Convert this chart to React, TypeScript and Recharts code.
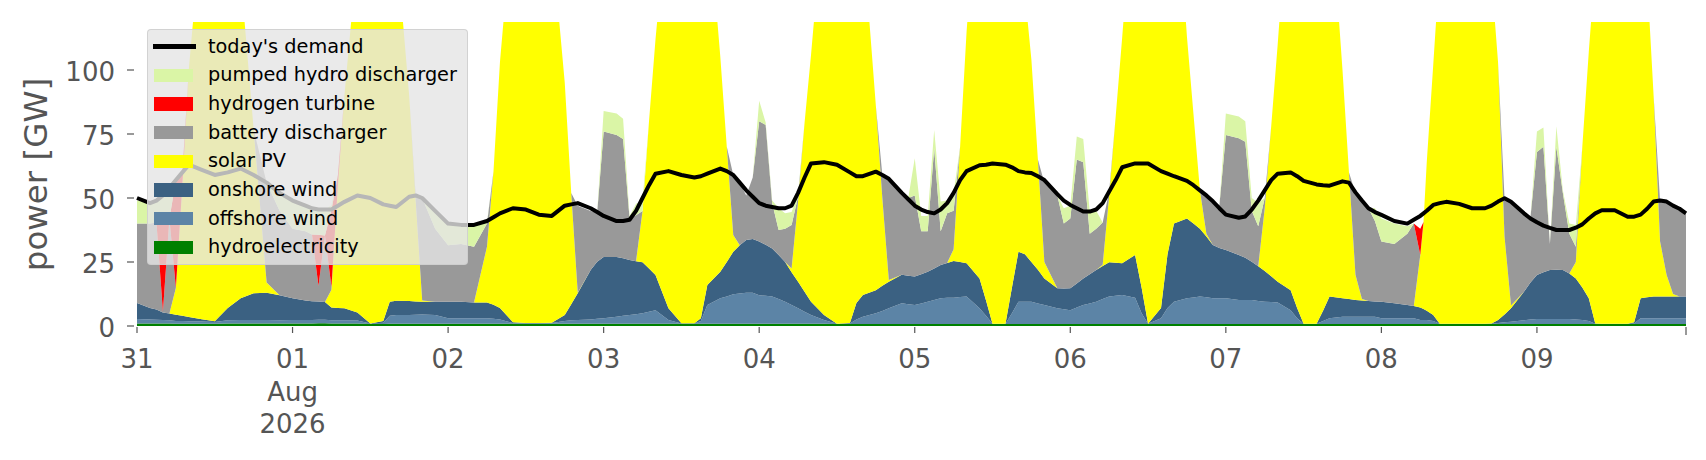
import React from "react";
import { ComposedChart, Area, Line, XAxis, YAxis } from "recharts";

// hours since 31 Jul 2026 00:00
const hours = [
  0, 2, 3, 4, 5, 6, 7, 8, 10, 12, 14, 16, 18, 20, 22,
  24, 26, 27, 28, 29, 30, 31, 32, 34, 36, 38, 39, 40, 42, 43, 44, 46,
  48, 50, 52, 54, 55, 56, 58, 60, 62, 64, 66, 67, 68, 70, 71,
  72, 74, 75, 76, 77, 78, 79, 80, 82, 84, 86, 87, 88, 90, 91, 92, 93, 94, 95,
  96, 97, 98, 99, 100, 101, 102, 103, 104, 106, 108, 110, 111, 112, 114, 115, 116, 118, 119,
  120, 121, 122, 123, 124, 125, 126, 127, 128, 130, 131, 132, 134, 135, 136, 137, 138, 139, 140, 142, 143,
  144, 145, 146, 147, 148, 149, 150, 151, 152, 154, 155, 156, 158, 159, 160, 162, 163, 164, 165, 166, 167,
  168, 170, 171, 172, 173, 174, 175, 176, 178, 179, 180, 182, 183, 184, 186, 187, 188, 189, 190, 191,
  192, 194, 196, 197, 198, 198.5, 199, 200, 201, 202, 204, 206, 208, 209, 210, 211, 212, 214, 215,
  216, 217, 218, 219, 220, 221, 222, 223, 224, 225, 226, 228, 230, 231, 232, 233, 234, 235, 236, 237, 238, 239,
];

const demand = [
  50, 48, 49, 51, 54, 57, 60, 63, 61, 59, 60, 61.5, 59, 56, 52,
  49, 47, 46, 45.5, 45.5, 45.5, 47, 48.5, 51, 50, 47.5, 47, 46.5, 50.5, 51, 50, 45,
  40, 39.5, 39.5, 41, 42.5, 44, 46, 45.5, 43.5, 43, 47, 47.5, 48, 46, 44.5,
  43, 41, 41, 41.5, 45, 50, 55, 59.5, 60.5, 59, 58, 58.5, 59.5, 61.5, 60.5, 59, 56, 53, 50.5,
  48, 47, 46.5, 46, 46, 47, 52, 58, 63.5, 64, 63, 60, 58.5, 58.5, 60.3, 59, 57.5, 52, 49.5,
  47, 45.5, 44.5, 44, 45.5, 48, 52, 57, 60.5, 62.8, 63, 63.5, 63, 62, 60.5, 60, 59.8, 58.5, 57, 51.5, 49,
  47.3, 46, 44.7, 44.7, 45.5, 48, 52.5, 57, 62, 63.5, 63.5, 63.5, 60.5, 59.5, 58.5, 56.7, 55, 53, 51, 48.7, 46,
  43.5, 42.3, 42.8, 45.5, 49, 53, 57, 59.5, 60, 58.5, 56.7, 55.3, 55, 54.8, 56.5, 56, 52.2, 49, 46, 44.5,
  43.4, 41, 40, 41.5, 43, 44, 45, 47.3, 48, 48.5, 47.7, 46, 46, 47, 48.6, 49.9, 48.5, 44, 42,
  40.5, 39.2, 38.3, 37.5, 37.5, 37.5, 38.4, 39.7, 42, 44, 45.2, 45.2, 42.7, 42.7, 43.5, 45.8, 48.6, 49, 48.6, 47, 45.8, 44,
];

const hydro = [
  1, 1, 1, 1, 1, 0.9, 0.9, 0.9, 0.9, 0.9, 1, 1, 1, 1, 1,
  1, 1, 1, 1.1, 1.1, 1, 1, 1, 1, 0.8, 0.8, 0.9, 0.9, 0.9, 0.9, 0.9, 0.9,
  0.9, 0.9, 0.9, 0.9, 0.9, 0.9, 0.9, 0.9, 0.9, 0.9, 0.9, 0.9, 0.9, 0.9, 0.9,
  0.9, 0.9, 0.9, 0.9, 0.9, 0.9, 0.9, 0.9, 0.9, 0.9, 0.9, 0.9, 0.9, 0.9, 0.9, 0.9, 0.9, 0.9, 0.9,
  0.9, 0.9, 0.9, 0.9, 0.9, 0.9, 0.9, 0.9, 0.9, 0.9, 0.8, 0.8, 0.8, 0.8, 0.8, 0.8, 0.8, 0.8, 0.8,
  0.8, 0.8, 0.8, 0.8, 0.8, 0.8, 0.8, 0.8, 0.8, 0.8, 0.8, 0.8, 0.8, 0.8, 0.8, 0.8, 0.8, 0.8, 0.8, 0.8, 0.8,
  0.8, 0.8, 0.8, 0.8, 0.8, 0.8, 0.8, 0.8, 0.8, 0.8, 0.8, 0.8, 0.8, 0.8, 0.8, 0.8, 0.8, 0.8, 0.8, 0.8, 0.8,
  0.8, 0.8, 0.8, 0.8, 0.8, 0.8, 0.8, 0.8, 0.8, 0.8, 0.8, 0.8, 0.8, 0.8, 0.8, 0.8, 0.8, 0.8, 0.8, 0.8,
  0.8, 0.8, 0.8, 0.8, 0.8, 0.8, 0.8, 0.8, 0.8, 0.8, 0.8, 0.8, 0.8, 0.8, 0.8, 0.8, 0.8, 0.8, 0.8,
  0.8, 0.8, 0.8, 0.8, 0.8, 0.8, 0.8, 0.8, 0.8, 0.8, 0.8, 0.8, 0.8, 0.8, 0.8, 0.8, 0.8, 0.8, 0.8, 0.8, 0.8, 0.8,
];

const offshore = [
  1.7, 1.5, 1.4, 1.3, 1.2, 1.1, 1.1, 1, 0.9, 0.7, 1.2, 1.3, 1.3, 1.3, 1.2,
  1.3, 1.3, 1.3, 1.3, 1.3, 1.2, 1.2, 1.2, 1.1, 0.2, 0.5, 3.1, 3.4, 3.4, 3.5, 3.6, 3.4,
  2.1, 2.1, 2.1, 2.1, 1.9, 1.6, 0.3, 0.2, 0.2, 0.3, 1.1, 1.3, 1.4, 1.6, 1.9,
  2.1, 2.7, 3.1, 3.4, 3.7, 4.1, 4.7, 5.3, 1.4, 0.1, 0.1, 1.1, 7.3, 9.9, 10.6, 11.5, 11.8, 12.1, 12.1,
  11.1, 10.9, 10.6, 9.6, 8.6, 7.3, 6, 4.7, 3.4, 1.4, 0.1, 0.2, 1.7, 2.8, 4.2, 5.1, 6.1, 8.1, 7.7,
  7.4, 8, 8.7, 9.4, 10, 10.2, 10.2, 10.5, 10.7, 6.1, 3.2, 0.1, 0.1, 4.2, 8.7, 8.7, 8.7, 8, 7.4, 6.1, 5.7,
  5.4, 6.4, 7.4, 8, 8.7, 9.7, 10.7, 11, 11.3, 10.2, 4.2, 0.1, 2.2, 6.2, 8.7, 10, 10.3, 10.7, 10.4, 10, 10,
  10, 9.4, 9.4, 9.4, 9, 8.7, 8.6, 8.4, 5.4, 2.2, 0.1, 0.1, 1.2, 2.2, 2.8, 2.8, 2.8, 2.8, 2.8, 2.8,
  2.2, 2.2, 2.2, 2.2, 1.5, 1.5, 1.5, 1.2, 0.1, 0.1, 0.1, 0.1, 0.1, 0.1, 0.4, 0.7, 0.9, 1.4, 1.7,
  1.9, 1.9, 1.9, 1.9, 1.9, 1.9, 1.7, 1.5, 1.2, 0.1, 0.1, 0.1, 0.1, 0.2, 2.2, 2.2, 2.2, 2.2, 2.2, 2.2, 2.2, 2.2,
];

const onshore = [
  6.3, 4.5, 4, 3, 2.7, 2.4, 2, 1.6, 0.8, 0.3, 4.8, 8.5, 10.5, 10.7, 9.8,
  8.5, 7.7, 7.4, 7.2, 7, 5, 4.8, 4.7, 3.2, 0, 0.7, 5.5, 5.6, 5.5, 5.2, 5, 5.2,
  6.5, 6.5, 6.2, 6.2, 5.5, 4.5, 0.3, 0.1, 0.1, 0.1, 2.3, 6.3, 10.5, 19.4, 22.3,
  24, 23.4, 22.5, 21.5, 20.7, 19.9, 16.9, 13.7, 4.6, 0.1, 0.1, 1, 7.8, 10.4, 13.5, 16.6, 18.8, 20.6, 21,
  21, 19.9, 18.8, 17.2, 15.5, 12.8, 10.4, 7.8, 5.2, 2, 0, 0.2, 6.5, 8.5, 9, 9.8, 10.4, 11.1, 11.1,
  11.1, 11.4, 11.7, 12.3, 13, 13.6, 14.4, 13.7, 13, 11.7, 6, 0, 0, 10, 19.5, 18.5, 15.5, 13.2, 10.4, 7.8, 8.1,
  8.5, 9.4, 10.4, 11.4, 12.4, 12.9, 13.4, 12.9, 12.4, 16.7, 10, 0, 4, 21, 30.5, 31.2, 28.9, 26.5, 23.8, 20.8, 19.7,
  18.9, 17.5, 16.5, 14.9, 13.5, 12, 10, 8.1, 7.8, 4, 0, 0, 4, 8.5, 7.2, 6.9, 6.6, 6.4, 6.2, 6,
  6.5, 5.9, 5.2, 4.8, 4.9, 4.3, 3.7, 2.3, 0, 0, 0, 0, 0, 0.1, 1.1, 3, 5.2, 11.2, 14.5,
  17.2, 18.3, 19.2, 19.3, 19.2, 17.8, 16.1, 12.7, 8.8, 0.1, 0, 0, 0, 0.5, 7.8, 8.2, 8.5, 8.5, 8.5, 8.5, 8.5, 8.5,
];

const solar = [
  0, 0, 0, 0, 0, 10.5, 51, 97, 155, 175, 165, 126, 64, 4, 0,
  0, 0, 0, 0, 0, 7, 48, 83, 140, 170, 165, 150, 140, 80, 39.4, 0.5, 0,
  0, 0, 0, 21.8, 52, 96, 160, 180, 175, 150, 90.7, 43.5, 0.2, 0, 0,
  0, 0, 0, 0, 0, 20, 57.5, 92, 160, 180, 175, 165, 150, 84, 45, 6.5, 0, 0, 0,
  0, 0, 0, 0, 0, 1.5, 31.3, 66, 96.5, 160, 180, 175, 160, 140, 72, 34.3, 0.7, 0, 0,
  0, 0, 0, 0, 0, 0, 4.6, 45, 90.5, 165, 170, 180, 170, 150, 140, 102, 79, 43, 6.4, 0, 0,
  0, 0, 0, 0, 0, 0.5, 26.1, 57, 88, 150, 160, 180, 175, 155, 145, 71, 43, 15, 1, 0, 0,
  0, 0, 0, 0, 0, 24.5, 58.6, 92.7, 165, 175, 180, 178, 170, 160, 89.2, 49.5, 9.8, 0.5, 0, 0,
  0, 0, 0, 0, 20.5, 34, 58, 97.7, 140, 170, 185, 180, 160, 135, 100.7, 30.5, 1.1, 0, 0,
  0, 0, 0, 0, 0, 0, 6.4, 55, 96.2, 140, 170, 185, 175, 160, 145, 125, 78.5, 21.5, 8.5, 1, 0, 0,
];

const battery = [
  31, 33, 34, 0.3, 37, 0, 0, 0, 0, 0, 0, 0, 0, 39, 33,
  27.2, 27, 26, 6, 26, 1, 0, 0, 0, 0, 0, 0, 0, 0, 2, 40, 28.5,
  22, 22.5, 21.8, 9, 0, 0, 0, 0, 0, 0, 0, 0, 34, 23, 19,
  49, 47.6, 46.5, 16.2, 18, 0, 0, 0, 0, 0, 0, 0, 0, 0, 0, 23.5, 24.5, 17.4, 24,
  47, 46.8, 17.7, 9.8, 13, 17, 2, 0, 0, 0, 0, 0, 0, 0, 0, 9, 39.5, 32, 30.4,
  31.7, 16.8, 15.8, 46.9, 13.2, 19.4, 15, 0, 0, 0, 0, 0, 0, 0, 0, 0, 0, 0, 31, 36.3, 25.4,
  27.3, 48.4, 45.4, 15.8, 16.1, 16.5, 1.5, 0, 0, 0, 0, 0, 0, 0, 0, 0, 0, 0, 15, 17.4, 16.5,
  44.9, 45.6, 45.3, 19.9, 15.7, 4, 0, 0, 0, 0, 0, 0, 0, 0, 0, 0, 32, 39.5, 36.2, 31.4,
  23.5, 23.1, 27.8, 32.2, 0, 0, 0, 0, 0, 0, 0, 0, 0, 0, 0, 15, 40.5, 30.6, 25.5,
  48.1, 49, 10.1, 48, 30.1, 15.5, 6, 0, 0, 0, 0, 0, 0, 0, 0, 0, 0, 15.8, 28.5, 35, 34.5, 32.5,
];

// null = turbine not running (keeps the area from drawing zero-width seams)
const _ = null;
const hydrogen = [
  _, _, 0, 38, 0, 42, 5, 0, _, _, _, _, _, _, _,
  _, _, 0, 20, 0, 30, 4, 0, _, _, _, _, _, _, _, _, _,
  _, _, _, _, _, _, _, _, _, _, _, _, _, _, _,
  _, _, _, _, _, _, _, _, _, _, _, _, _, _, _, _, _, _, _,
  _, _, _, _, _, _, _, _, _, _, _, _, _, _, _, _, _, _, _,
  _, _, _, _, _, _, _, _, _, _, _, _, _, _, _, _, _, _, _, _, _,
  _, _, _, _, _, _, _, _, _, _, _, _, _, _, _, _, _, _, _, _, _,
  _, _, _, _, _, _, _, _, _, _, _, _, _, _, _, _, _, _, _, _,
  _, _, _, 0, 10.3, 0, _, _, _, _, _, _, _, _, _, _, _, _, _,
  _, _, _, _, _, _, _, _, _, _, _, _, _, _, _, _, _, _, _, _, _, _,
];

const pumped = [
  9, 8, 9, 7, 10, 0, 0, 0, 0, 0, 0, 0, 0, 0, 7,
  11, 10, 10, 10.5, 10, 2, 0, 0, 0, 0, 0, 0, 0, 0, 0, 0, 7,
  8.4, 7.5, 8.5, 0.5, 0, 0, 0, 0, 0, 0, 0, 0, 0, 0, 0,
  8, 8.4, 8, 1, 4.5, 4, 0, 0, 0, 0, 0, 0, 0, 0, 0, 0, 0, 0, 0,
  8, 1, 1, 8.5, 6, 5, 1, 0, 0, 0, 0, 0, 0, 0, 0, 0, 0, 0, 0,
  14.5, 6, 6, 7.2, 11.6, 5, 7, 0, 0, 0, 0, 0, 0, 0, 0, 0, 0, 0, 0, 0, 6,
  5, 9, 9, 8.7, 7, 0, 0, 0, 0, 0, 0, 0, 0, 0, 0, 0, 0, 0, 0, 0, 0,
  8.4, 8.5, 8, 5, 9, 0, 0, 0, 0, 0, 0, 0, 0, 0, 0, 0, 0, 0, 0, 5,
  9, 8, 3, 0, 0, 0, 0, 0, 0, 0, 0, 0, 0, 0, 0, 0, 0, 0, 0,
  8, 7.5, 0, 8, 1, 4, 8.5, 0, 0, 0, 0, 0, 0, 0, 0, 0, 0, 0, 0, 0, 0, 0,
];

const dayTicks = [0, 24, 48, 72, 96, 120, 144, 168, 192, 216];
const dayLabels = ["31", "01", "02", "03", "04", "05", "06", "07", "08", "09"];
const monthYearLines = ["Aug", "2026"]; // shown under the "01" tick
const xTicks = [...dayTicks, 239];
const yTicks = [0, 25, 50, 75, 100];

// stacked from bottom to top
const stackSeries = [
  { key: "hydro", name: "hydroelectricity", color: "#008000", values: hydro },
  { key: "offshore", name: "offshore wind", color: "#5c84a6", values: offshore },
  { key: "onshore", name: "onshore wind", color: "#3b6182", values: onshore },
  { key: "solar", name: "solar PV", color: "#ffff00", values: solar },
  { key: "battery", name: "battery discharger", color: "#999999", values: battery },
  { key: "hydrogen", name: "hydrogen turbine", color: "#ff0000", values: hydrogen },
  { key: "pumped", name: "pumped hydro discharger", color: "#daf5a6", values: pumped },
];

const data = hours.map((t, i) => {
  const row: Record<string, number | null> = { t, demand: demand[i] };
  stackSeries.forEach((s) => {
    row[s.key] = s.values[i] as number | null;
  });
  return row;
});

const FONT = "DejaVu Sans";
const TICK_COLOR = "#555555";

const XTick = (props: any) => {
  const { x, payload } = props;
  const v = payload.value;
  const i = dayTicks.indexOf(v);
  return (
    <g>
      <line x1={x} x2={x} y1={327} y2={i >= 0 ? 333 : 335} stroke={TICK_COLOR} strokeWidth={1.2} />
      {i >= 0 && (
        <text x={x} y={368} textAnchor="middle" fill={TICK_COLOR} fontSize={26} fontFamily={FONT}>
          {dayLabels[i]}
        </text>
      )}
      {i === 1 &&
        monthYearLines.map((s, k) => (
          <text key={k} x={x} y={400.5 + 32.3 * k} textAnchor="middle" fill={TICK_COLOR} fontSize={26} fontFamily={FONT}>
            {s}
          </text>
        ))}
    </g>
  );
};

const YTick = (props: any) => {
  const { y, payload } = props;
  return (
    <g>
      <line x1={127} x2={134} y1={y} y2={y} stroke={TICK_COLOR} strokeWidth={1.2} />
      <text x={115} y={y + 11} textAnchor="end" fill={TICK_COLOR} fontSize={26} fontFamily={FONT}>
        {payload.value}
      </text>
    </g>
  );
};

const legendRows = [
  { name: "today's demand", color: "#000000", kind: "line" },
  ...[...stackSeries].reverse().map((s) => ({ name: s.name, color: s.color, kind: "patch" })),
];

export default function App() {
  return (
    <div
      style={{
        position: "absolute",
        left: 0,
        top: 0,
        width: 1706,
        height: 460,
        background: "#ffffff",
        fontFamily: FONT,
        overflow: "hidden",
      }}
    >
      <ComposedChart width={1706} height={460} data={data} margin={{ top: 22, right: 20, bottom: 104, left: 0 }}>
        <XAxis
          dataKey="t"
          type="number"
          domain={[0, 239]}
          ticks={xTicks}
          interval={0}
          height={30}
          axisLine={false}
          tickLine={false}
          tick={XTick}
        />
        <YAxis
          type="number"
          domain={[0, 118.75]}
          ticks={yTicks}
          interval={0}
          width={137}
          axisLine={false}
          tickLine={false}
          tick={YTick}
          allowDataOverflow
        />
        {stackSeries.map((s) => (
          <Area
            key={s.key}
            dataKey={s.key}
            stackId="supply"
            type="linear"
            stroke="none"
            fill={s.color}
            fillOpacity={1}
            isAnimationActive={false}
            dot={false}
            activeDot={false}
          />
        ))}
        <Line
          dataKey="demand"
          type="linear"
          stroke="#000000"
          strokeWidth={4}
          strokeLinejoin="round"
          dot={false}
          activeDot={false}
          isAnimationActive={false}
        />
      </ComposedChart>

      <svg width={100} height={460} style={{ position: "absolute", left: 0, top: 0 }}>
        <text
          transform="translate(47,174.5) rotate(-90)"
          textAnchor="middle"
          fill={TICK_COLOR}
          fontSize={32.5}
          fontFamily={FONT}
        >
          power [GW]
        </text>
      </svg>

      <div
        style={{
          position: "absolute",
          left: 147,
          top: 29,
          width: 321,
          height: 236,
          boxSizing: "border-box",
          background: "rgba(229,229,229,0.8)",
          border: "1px solid rgba(204,204,204,0.8)",
          borderRadius: 4,
        }}
      >
        {legendRows.map((r, i) => {
          const cy = 16.5 + i * 28.7;
          return (
            <div key={r.name}>
              {r.kind === "line" ? (
                <div
                  style={{
                    position: "absolute",
                    left: 5,
                    top: cy - 2.5,
                    width: 43,
                    height: 5,
                    background: r.color,
                  }}
                />
              ) : (
                <div
                  style={{
                    position: "absolute",
                    left: 6,
                    top: cy - 6.7,
                    width: 39,
                    height: 13.4,
                    background: r.color,
                  }}
                />
              )}
              <div
                style={{
                  position: "absolute",
                  left: 60,
                  top: cy - 12,
                  height: 24,
                  lineHeight: "24px",
                  fontSize: 19.3,
                  color: "#000000",
                  whiteSpace: "nowrap",
                  fontFamily: FONT,
                }}
              >
                {r.name}
              </div>
            </div>
          );
        })}
      </div>
    </div>
  );
}
